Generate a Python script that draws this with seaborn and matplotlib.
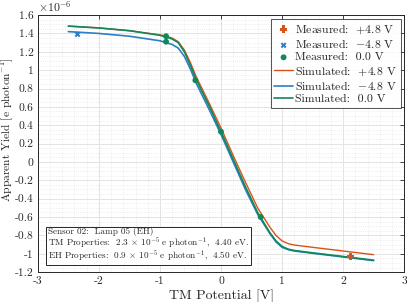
import numpy as np
import pandas as pd
import matplotlib
matplotlib.use('Agg')
import matplotlib.pyplot as plt
import seaborn as sns
from matplotlib.ticker import MultipleLocator

# measured points (yield in units of 1e-6 e/photon)
meas_pos_x = [2.12]
meas_pos_y = [-1.03]
meas_neg_x = [-2.35]
meas_neg_y = [1.39]
meas_zero_x = [-0.9, -0.9, -0.42, 0.0, 0.65]
meas_zero_y = [1.37, 1.31, 0.89, 0.33, -0.60]

# simulated curves
sim_x = [-2.5, -2.0, -1.5, -1.0, -0.9, -0.8, -0.7, -0.6, -0.5, -0.4, -0.2, 0.0,
         0.2, 0.4, 0.6, 0.8, 0.9, 1.0, 1.1, 1.2, 1.5, 2.0, 2.5]
sim_pos_y = [1.48, 1.46, 1.43, 1.385, 1.37, 1.35, 1.31, 1.22, 1.08, 0.92, 0.65, 0.37,
             0.07, -0.22, -0.50, -0.71, -0.80, -0.86, -0.89, -0.905, -0.93, -0.97, -1.01]
sim_neg_y = [1.42, 1.40, 1.37, 1.32, 1.30, 1.28, 1.24, 1.15, 1.01, 0.85, 0.58, 0.30,
             0.00, -0.30, -0.57, -0.78, -0.87, -0.93, -0.955, -0.97, -0.995, -1.035, -1.075]
sim_zero_y = [1.48, 1.46, 1.43, 1.38, 1.36, 1.34, 1.30, 1.20, 1.05, 0.89, 0.62, 0.33,
              0.03, -0.27, -0.55, -0.77, -0.86, -0.92, -0.95, -0.965, -0.99, -1.03, -1.07]

c_pos = '#D95319'
c_neg = '#2C7FC6'
c_zero = '#12875A'

sns.set_style('white')
plt.rcParams['font.family'] = ['cmr10', 'DejaVu Serif']
plt.rcParams['mathtext.fontset'] = 'cm'
plt.rcParams['axes.unicode_minus'] = False

fig = plt.figure(figsize=(4.07, 3.02), dpi=100)
ax = fig.add_axes([0.093, 0.099, 0.9, 0.851])

sns.scatterplot(x=meas_pos_x, y=meas_pos_y, ax=ax, marker='P', color=c_pos, s=30,
                edgecolor='none', label='Measured:  $+4.8$ V', zorder=5)
sns.scatterplot(x=meas_neg_x, y=meas_neg_y, ax=ax, marker='X', color=c_neg, s=18,
                edgecolor='none', label='Measured:  $-4.8$ V', zorder=5)
sns.scatterplot(x=meas_zero_x, y=meas_zero_y, ax=ax, marker='o', color=c_zero, s=18,
                edgecolor='none', label='Measured:  0.0 V', zorder=5)

sns.lineplot(x=sim_x, y=sim_pos_y, ax=ax, color=c_pos, lw=1.0, sort=False,
             label='Simulated:  $+4.8$ V')
sns.lineplot(x=sim_x, y=sim_neg_y, ax=ax, color=c_neg, lw=1.2, sort=False,
             label='Simulated:  $-4.8$ V')
sns.lineplot(x=sim_x, y=sim_zero_y, ax=ax, color=c_zero, lw=1.2, sort=False,
             label='Simulated:  0.0 V')

ax.set_xlim(-3, 3)
ax.set_ylim(-1.2, 1.6)
ax.xaxis.set_minor_locator(MultipleLocator(0.2))
ax.yaxis.set_minor_locator(MultipleLocator(0.05))
yt = np.round(np.arange(-1.2, 1.61, 0.2), 1) + 0.0
ax.set_yticks(yt)
ax.set_yticklabels(['%g' % (0.0 if abs(v) < 1e-9 else v) for v in yt])
xt = np.arange(-3, 4)
ax.set_xticks(xt)
ax.set_xticklabels(['%g' % v for v in xt])

ax.grid(which='major', color='#E3E3E3', lw=0.7)
ax.grid(which='minor', color='#E8E8E8', lw=0.6, ls=':')
ax.set_axisbelow(True)
ax.tick_params(which='both', direction='in', top=True, right=True, labelsize=8.3,
               length=3, width=0.6, pad=3)
ax.tick_params(which='minor', length=0)
for s in ax.spines.values():
    s.set_color('#262626')
    s.set_linewidth(0.7)

ax.set_xlabel('TM Potential [V]', fontsize=10, labelpad=3)
ax.set_ylabel('Apparent Yield [e photon$^{-1}$]', fontsize=8.3, labelpad=0)
ax.yaxis.set_label_coords(-0.06, 0.553)
ax.text(0.0, 1.005, r'$\times 10^{-6}$', transform=ax.transAxes, fontsize=8.5,
        ha='left', va='bottom')

leg = ax.legend(loc='upper right', fontsize=8.5, frameon=True, fancybox=False,
                borderpad=0.3, labelspacing=0.15, handlelength=1.6,
                handletextpad=0.2, borderaxespad=0.3)
leg.get_frame().set_edgecolor('#262626')
leg.get_frame().set_linewidth(0.7)

ax.text(0.028, 0.035,
        'Sensor 02:  Lamp 05 (EH)\n'
        'TM Properties:  2.3 $\\times$ 10$^{-5}$ e photon$^{-1}$,  4.40 eV.\n'
        'EH Properties:  0.9 $\\times$ 10$^{-5}$ e photon$^{-1}$,  4.50 eV.',
        transform=ax.transAxes, fontsize=6.6, ha='left', va='bottom',
        linespacing=0.9,
        bbox=dict(boxstyle='square,pad=0.25', fc='white', ec='#262626', lw=0.7))

fig.savefig('out.png', dpi=100)
